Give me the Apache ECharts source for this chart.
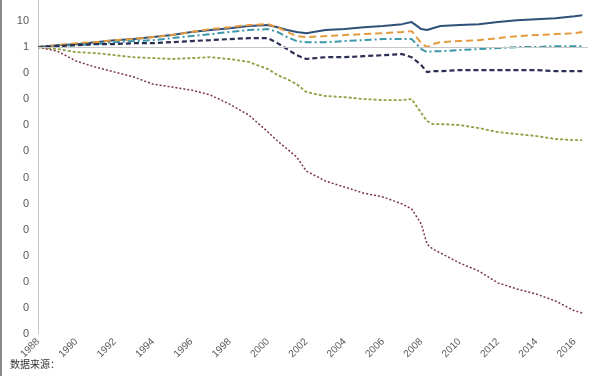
<!DOCTYPE html>
<html>
<head>
<meta charset="utf-8">
<script src="https://cdn.jsdelivr.net/npm/echarts@6/dist/echarts.min.js"></script>
<style>
  html, body { margin: 0; padding: 0; background: #fff; }
  #chart { width: 600px; height: 376px; }
</style>
</head>
<body>
<div id="chart"></div>
<script>
// sample dates (decimal years)
var years = [1988, 1989, 1990, 1991, 1992, 1993, 1994, 1995, 1996, 1997, 1998, 1999, 2000, 2000.5, 2001, 2001.5,
  2002, 2003, 2004, 2005, 2006, 2007, 2007.5, 2008, 2008.3, 2008.6, 2009, 2010, 2011, 2012, 2013, 2014, 2015, 2016, 2016.4];

// values
var blueSolid = [1, 1.19, 1.30, 1.55, 1.85, 2.03, 2.42, 2.9, 3.8, 4.5, 5.3, 6.4, 7.0, 5.8, 4.5, 3.8,
  3.4, 4.5, 4.9, 5.8, 6.4, 7.6, 9.1, 4.9, 4.5, 5.3, 6.4, 7.0, 7.6, 9.1, 10.8, 11.8, 12.9, 15.4, 16.8];
var orangeDash = [1, 1.19, 1.42, 1.55, 1.85, 2.03, 2.42, 2.9, 3.8, 4.9, 5.8, 7.0, 7.6, 5.8, 3.8, 2.64,
  2.42, 2.64, 2.9, 3.15, 3.4, 3.8, 4.1, 1.42, 1.0, 1.30, 1.55, 1.70, 1.85, 2.21, 2.64, 2.9, 3.15, 3.4, 3.8];
var tealDashDot = [1, 1.09, 1.19, 1.30, 1.55, 1.70, 1.85, 2.21, 2.64, 3.15, 3.8, 4.5, 4.9, 3.8, 2.42, 1.70,
  1.55, 1.55, 1.70, 1.85, 2.03, 2.03, 2.03, 0.84, 0.64, 0.70, 0.70, 0.77, 0.84, 0.92, 1, 1, 1.09, 1.09, 1.09];
var navyDash = [1, 1.09, 1.19, 1.30, 1.30, 1.42, 1.42, 1.55, 1.70, 1.85, 2.03, 2.21, 2.21, 1.42, 0.84, 0.49,
  0.35, 0.41, 0.41, 0.45, 0.49, 0.54, 0.41, 0.204, 0.110, 0.120, 0.120, 0.131, 0.131, 0.131, 0.131, 0.131, 0.120, 0.120, 0.120];
var greenDot = [1, 0.84, 0.64, 0.59, 0.49, 0.41, 0.38, 0.35, 0.38, 0.41, 0.35, 0.27, 0.144, 0.0846, 0.059, 0.038,
  0.0189, 0.0133, 0.0121, 0.0102, 0.0093, 0.0093, 0.0102, 0.00296, 0.00146, 0.00112, 0.00112, 0.00103, 0.00079, 0.00055, 0.00046, 0.00039, 0.0003, 0.00027, 0.00027];
var redDot = [1, 0.70, 0.29, 0.171, 0.110, 0.071, 0.038, 0.0293, 0.0225, 0.0145, 0.0065, 0.00248, 0.00055, 0.00025, 1.24e-4, 6.1e-5,
  1.77e-5, 7.3e-6, 4.3e-6, 2.5e-6, 1.8e-6, 9.7e-7, 6.2e-7, 1.65e-7, 2.8e-8, 1.8e-8, 1.28e-8, 5.3e-9, 2.6e-9, 9.1e-10, 5.3e-10, 3.4e-10, 1.85e-10, 7.7e-11, 6.4e-11];

var xTicks = [1988, 1990, 1992, 1994, 1996, 1998, 2000, 2002, 2004, 2006, 2008, 2010, 2012, 2014, 2016];

function pairs(vals) {
  return years.map(function (y, i) { return [y, vals[i]]; });
}

var chart = echarts.init(document.getElementById("chart"));

var option = {
  animation: false,
  backgroundColor: "#fff",
  grid: { left: 38, right: 12, top: 0, bottom: 42 },
  xAxis: {
    type: "value",
    min: 1988,
    max: 2016.7,
    interval: 2,
    axisLine: { show: false },
    axisTick: { show: false },
    splitLine: { show: false },
    axisLabel: {
      rotate: 45,
      margin: 6,
      color: "#595959",
      fontFamily: "Liberation Sans",
      fontSize: 10,
      formatter: function (v) { return xTicks.indexOf(v) >= 0 ? String(v) : ""; }
    }
  },
  yAxis: {
    type: "log",
    logBase: 10,
    min: 1e-11,
    max: 64,
    interval: 1,
    axisLine: { show: true, lineStyle: { color: "#c8c8c8", width: 1 } },
    axisTick: { show: false },
    splitLine: { show: false },
    axisLabel: {
      margin: 9,
      color: "#595959",
      fontFamily: "Liberation Sans",
      fontSize: 11,
      formatter: function (v) { return v > 10.5 ? "" : String(Math.round(v)); }
    }
  },
  series: [
    {
      name: "blue", type: "line", data: pairs(blueSolid), showSymbol: false,
      lineStyle: { color: "#2f5078", width: 2 },
      markLine: {
        silent: true, symbol: "none", label: { show: false },
        lineStyle: { color: "#c8c8c8", width: 1, type: "solid" },
        data: [{ yAxis: 1 }]
      }
    },
    {
      name: "orange", type: "line", data: pairs(orangeDash), showSymbol: false,
      lineStyle: { color: "#e59a3e", width: 2, type: [7, 4] }
    },
    {
      name: "teal", type: "line", data: pairs(tealDashDot), showSymbol: false,
      lineStyle: { color: "#3d97ab", width: 2, type: [7, 3, 2, 3] }
    },
    {
      name: "navy", type: "line", data: pairs(navyDash), showSymbol: false,
      lineStyle: { color: "#2b2f52", width: 2.2, type: [5, 3] }
    },
    {
      name: "green", type: "line", data: pairs(greenDot), showSymbol: false,
      lineStyle: { color: "#8ea043", width: 1.8, type: [3, 2] }
    },
    {
      name: "red", type: "line", data: pairs(redDot), showSymbol: false,
      lineStyle: { color: "#7a3848", width: 1.5, type: [2, 2] }
    }
  ],
  graphic: [
    { type: "rect", left: 0, top: 0, shape: { width: 2, height: 376 }, style: { fill: "#8a8a8a" } },
    { type: "text", left: 10, top: 359, style: { text: "数据来源：", fill: "#333", font: "10px 'Noto Sans CJK SC'" } }
  ]
};
chart.setOption(option);
</script>
</body>
</html>
